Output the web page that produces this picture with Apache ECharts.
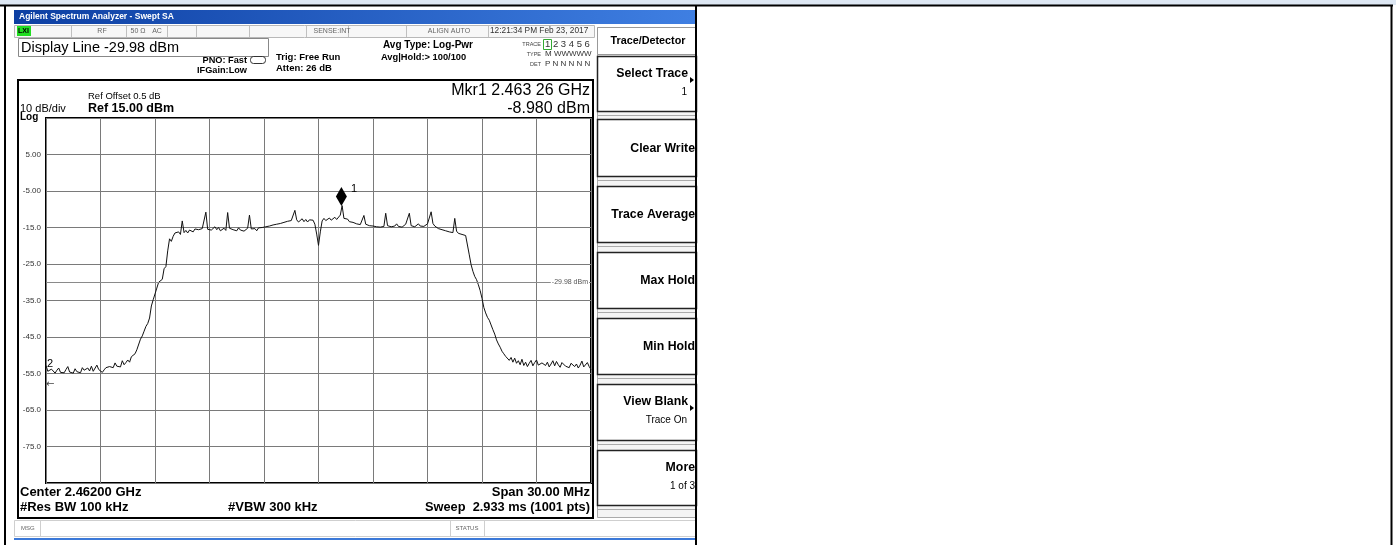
<!DOCTYPE html>
<html>
<head>
<meta charset="utf-8">
<title>Agilent Spectrum Analyzer - Swept SA</title>
<script src="https://cdn.jsdelivr.net/npm/echarts@6/dist/echarts.min.js"></script>
<style>
  html, body { margin: 0; padding: 0; background: #fff; }
  #chart { width: 1396px; height: 545px; }
</style>
</head>
<body>
<div id="chart"></div>
<script>
// sweep: centre 2.462 GHz, span 30 MHz -> x is the offset from centre in MHz
var freqStartMHz = -15;
var freqStepMHz = 0.1;
// trace 1 (dBm), one value per 0.1 MHz (one row = 1 MHz)
var traceDbm = [
  -52.8, -54.4, -54.6, -53.8, -54.2, -54.9, -54.1, -53.5, -54.7, -54.3,
  -54.8, -53.9, -53.1, -54.6, -54.2, -54.9, -53.7, -54.5, -54.0, -54.8,
  -53.4, -54.1, -54.6, -53.5, -54.3, -53.0, -54.4, -54.0, -52.7, -53.9,
  -54.4, -54.7, -54.0, -53.4, -53.9, -53.1, -52.6, -53.4, -52.1, -53.0,
  -52.7, -53.2, -51.5, -52.6, -52.0, -51.3, -51.9, -50.4, -50.9, -49.6,
  -48.5, -48.9, -45.6, -44.7, -43.4, -42.1, -41.3, -39.8, -36.5, -34.8,
  -33.2, -31.6, -30.0, -29.7, -29.2, -26.3, -25.7, -21.4, -18.1, -18.8,
  -17.4, -16.5, -16.8, -16.2, -16.9, -13.2, -16.4, -15.8, -16.5, -15.7,
  -15.9, -16.2, -15.4, -15.9, -15.6, -16.1, -15.3, -15.8, -10.8, -15.5,
  -15.1, -15.7, -15.3, -14.8, -15.6, -15.0, -15.9, -15.4, -15.2, -15.8,
  -10.9, -15.2, -14.9, -15.6, -15.3, -15.9, -15.1, -15.7, -15.4, -16.0,
  -15.5, -15.2, -11.6, -15.4, -15.8, -15.3, -15.9, -15.1, -15.6, -15.0,
  -15.4, -14.8, -15.2, -14.6, -14.9, -14.3, -14.7, -14.1, -14.5, -13.9,
  -14.2, -13.6, -14.0, -13.3, -13.8, -13.1, -12.7, -10.3, -12.9, -13.5,
  -13.0, -12.6, -13.4, -12.8, -13.5, -12.9, -13.3, -13.0, -14.1, -16.8,
  -19.9, -16.2, -13.2, -12.5, -13.1, -12.7, -12.4, -13.0, -12.6, -12.2,
  -12.8, -12.3, -11.6, -9.0, -12.5, -13.0, -12.7, -13.4, -12.9, -13.6,
  -13.3, -14.0, -13.5, -14.2, -13.7, -11.7, -14.1, -13.8, -14.5, -14.0,
  -14.6, -14.2, -14.8, -14.3, -14.9, -14.4, -14.7, -11.1, -14.5, -14.1,
  -14.8, -14.3, -14.6, -14.0, -14.7, -14.2, -14.9, -14.4, -14.1, -14.6,
  -11.1, -14.5, -14.2, -14.8, -14.3, -14.0, -14.6, -14.1, -14.7, -14.3,
  -14.0, -14.5, -10.7, -13.9, -14.6, -15.0, -15.3, -14.9, -15.6, -15.4,
  -15.9, -15.5, -16.2, -15.8, -16.4, -12.5, -16.0, -16.6, -16.2, -16.9,
  -16.5, -17.2, -17.6, -22.5, -25.2, -27.0, -28.4, -29.3, -30.7, -32.3,
  -34.4, -36.9, -38.4, -39.6, -40.4, -41.7, -43.0, -44.2, -45.8, -46.9,
  -47.8, -48.9, -49.6, -50.3, -50.0, -51.4, -50.6, -51.9, -50.8, -52.2,
  -51.5, -52.6, -51.1, -52.8, -51.9, -53.1, -52.2, -51.4, -52.9, -52.0,
  -51.3, -52.7, -53.0, -52.1, -51.6, -52.8, -51.9, -53.2, -52.4, -51.5,
  -52.9, -51.7, -52.6, -53.3, -52.0, -51.8, -53.0, -52.5, -53.4, -52.2,
  -51.9, -53.1, -52.4, -53.5, -52.7, -51.6, -53.2, -52.8, -52.0, -53.1,
  -53.9
];
var yTickLabels = ['5.00', '-5.00', '-15.0', '-25.0', '-35.0', '-45.0', '-55.0', '-65.0', '-75.0'];
var refLevelDbm = 15;
var dbPerDiv = 10;
var displayLineDbm = -29.98;
var marker1 = [1.26, -8.98];   // 2.463 26 GHz

var FONT = '"Liberation Sans", Arial, sans-serif';

var points = [];
for (var i = 0; i < traceDbm.length; i++) {
  points.push([+(freqStartMHz + i * freqStepMHz).toFixed(2), traceDbm[i]]);
}

function txt(x, y, s, size, o) {
  o = o || {};
  return {
    type: 'text', z: 20, silent: true,
    style: {
      x: x, y: y, text: s,
      font: (o.bold ? 'bold ' : '') + size + 'px ' + (o.family || FONT),
      fill: o.color || '#000',
      align: o.align || 'left', verticalAlign: 'middle',
      textAlign: o.align || 'left', textVerticalAlign: 'middle'
    }
  };
}
function box(x, y, w, h, stroke, fill, lw, z) {
  return {
    type: 'rect', z: z || 5, silent: true,
    shape: { x: x, y: y, width: w, height: h },
    style: { fill: fill || 'none', stroke: stroke || 'none', lineWidth: lw || 1 }
  };
}
function ln(x1, y1, x2, y2, color, lw, z) {
  return {
    type: 'line', z: z || 6, silent: true,
    shape: { x1: x1, y1: y1, x2: x2, y2: y2 },
    style: { stroke: color, lineWidth: lw || 1 }
  };
}

var g = [];
// page / table frame
g.push(box(0, 0, 1396, 5, null, '#dde7f3', 1, 1));
g.push(ln(0, 5.5, 1393, 5.5, '#000', 2, 30));
g.push(ln(5, 5, 5, 545, '#000', 2, 30));
g.push(ln(696, 5, 696, 545, '#000', 2, 30));
g.push(ln(1391.5, 5, 1391.5, 545, '#000', 2, 30));

// title bar
g.push({
  type: 'rect', z: 2, silent: true,
  shape: { x: 14, y: 10, width: 682, height: 14 },
  style: { fill: { type: 'linear', x: 0, y: 0, x2: 1, y2: 0,
    colorStops: [{ offset: 0, color: '#0d3fa3' }, { offset: 1, color: '#3f7fe2' }] } }
});
g.push(txt(19, 17, 'Agilent Spectrum Analyzer - Swept SA', 8.5, { bold: true, color: '#fff' }));

// status row
g.push(box(14.5, 25.5, 580, 12, '#b8b8b8', '#f7f7f7', 1, 2));
g.push(box(17, 26, 14, 10, null, '#22dd22', 1, 3));
g.push(txt(18, 31, 'LXI', 7, { bold: true }));
[71, 126, 167, 196, 249, 306, 348, 406, 488].forEach(function (x) {
  g.push(ln(x + 0.5, 26, x + 0.5, 37, '#c0c0c0', 1, 3));
});
g.push(txt(102, 31, 'RF', 7, { color: '#666', align: 'center' }));
g.push(txt(138, 31, '50 Ω', 7, { color: '#666', align: 'center' }));
g.push(txt(157, 31, 'AC', 7, { color: '#666', align: 'center' }));
g.push(txt(332, 31, 'SENSE:INT', 7, { color: '#666', align: 'center' }));
g.push(txt(449, 31, 'ALIGN AUTO', 7, { color: '#666', align: 'center' }));
g.push(txt(490, 31, '12:21:34 PM Feb 23, 2017', 8.3, { color: '#333' }));

// settings header
g.push(box(18.5, 38.5, 250, 18, '#888', '#fff', 1, 2));
g.push(txt(21, 47.5, 'Display Line -29.98 dBm', 14.5));
g.push(txt(247, 60, 'PNO: Fast', 9.2, { bold: true, align: 'right' }));
g.push(txt(247, 70, 'IFGain:Low', 9.2, { bold: true, align: 'right' }));
g.push({ type: 'rect', z: 3, silent: true, shape: { x: 250.5, y: 56.5, width: 15, height: 7, r: 3 },
  style: { fill: 'none', stroke: '#333', lineWidth: 1 } });
g.push(txt(276, 57, 'Trig: Free Run', 9.5, { bold: true }));
g.push(txt(276, 68, 'Atten: 26 dB', 9.5, { bold: true }));
g.push(txt(383, 45, 'Avg Type: Log-Pwr', 10, { bold: true }));
g.push(txt(381, 57, 'Avg|Hold:> 100/100', 9.3, { bold: true }));
g.push(txt(541, 44, 'TRACE', 5.5, { align: 'right', color: '#444' }));
g.push(txt(541, 54, 'TYPE', 5.5, { align: 'right', color: '#444' }));
g.push(txt(541, 64, 'DET', 5.5, { align: 'right', color: '#444' }));
g.push(box(543.5, 39.5, 8, 10, '#3a3', null, 1, 3));
g.push(txt(545, 44.5, '1 2 3 4 5 6', 9.5, { color: '#333' }));
g.push(txt(545, 54, 'M WWWWW', 8, { color: '#333' }));
g.push(txt(545, 64, 'P N N N N N', 8, { color: '#333' }));

// display frame
g.push(box(18, 80, 575, 438, '#000', null, 2, 8));
g.push(txt(88, 96, 'Ref Offset 0.5 dB', 9.5));
g.push(txt(20, 109, '10 dB/div', 11));
g.push(txt(88, 109, 'Ref 15.00 dBm', 12.5, { bold: true }));
g.push(txt(20, 117, 'Log', 10, { bold: true }));
g.push(txt(590, 91, 'Mkr1 2.463 26 GHz', 16, { align: 'right' }));
g.push(txt(590, 109, '-8.980 dBm', 16, { align: 'right' }));
g.push(txt(47, 364, '2', 11));
g.push(txt(46, 384, '←', 10, { family: '"DejaVu Sans"', color: '#444' }));
g.push(txt(20, 492, 'Center 2.46200 GHz', 13, { bold: true }));
g.push(txt(20, 507, '#Res BW 100 kHz', 13, { bold: true }));
g.push(txt(228, 507, '#VBW 300 kHz', 13, { bold: true }));
g.push(txt(590, 492, 'Span 30.00 MHz', 13, { bold: true, align: 'right' }));
g.push(txt(590, 507, 'Sweep  2.933 ms (1001 pts)', 12.8, { bold: true, align: 'right' }));

// message / status bar
g.push(box(14.5, 520.5, 682, 16, '#cfcfcf', '#fff', 1, 2));
g.push(ln(40.5, 521, 40.5, 536, '#cfcfcf', 1, 3));
g.push(ln(450.5, 521, 450.5, 536, '#cfcfcf', 1, 3));
g.push(ln(484.5, 521, 484.5, 536, '#cfcfcf', 1, 3));
g.push(txt(21, 528.5, 'MSG', 6, { color: '#666' }));
g.push(txt(467, 528.5, 'STATUS', 6, { color: '#666', align: 'center' }));
g.push(ln(14, 539, 696, 539, '#3b78d8', 2, 3));

// soft keys (cut off by the table divider on the right)
g.push(box(597.5, 27.5, 99, 490, '#aaa', '#f4f4f4', 1, 2));
g.push(box(597.5, 27.5, 99, 27, '#999', '#fff', 1, 3));
g.push(txt(648, 41, 'Trace/Detector', 10.8, { bold: true, align: 'center' }));
var keys = [
  { top: 56, h: 55, main: 'Select Trace', sub: '1', arrow: true },
  { top: 119, h: 57, main: 'Clear Write' },
  { top: 186, h: 56, main: 'Trace Average' },
  { top: 252, h: 56, main: 'Max Hold' },
  { top: 318, h: 56, main: 'Min Hold' },
  { top: 384, h: 56, main: 'View Blank', sub: 'Trace On', arrow: true },
  { top: 450, h: 55, main: 'More', sub: '1 of 3' }
];
keys.forEach(function (k) {
  g.push(box(597.5, k.top + 0.5, 99, k.h, '#222', '#fff', 1.5, 3));
  g.push(ln(598, k.top + k.h + 4.5, 696, k.top + k.h + 4.5, '#aaa', 1, 3));
  var right = k.arrow ? 688 : 695;
  if (k.sub) {
    g.push(txt(right, k.top + 18, k.main, 12.3, { bold: true, align: 'right' }));
    g.push(txt(k.arrow ? 687 : 695, k.top + 36, k.sub, 10, { align: 'right' }));
  } else {
    g.push(txt(right, k.top + k.h / 2 + 1, k.main, 12.3, { bold: true, align: 'right' }));
  }
  if (k.arrow) {
    g.push({ type: 'polygon', z: 6, silent: true,
      shape: { points: [[690, k.top + 21], [694, k.top + 24], [690, k.top + 27]] },
      style: { fill: '#000' } });
  }
});

var chart = echarts.init(document.getElementById('chart'), null, { renderer: 'canvas' });
chart.setOption({
  animation: false,
  backgroundColor: '#fff',
  textStyle: { fontFamily: FONT },
  grid: { left: 46, top: 118, width: 545, height: 365, show: true,
          borderColor: '#000', borderWidth: 2, backgroundColor: '#fff' },
  xAxis: {
    type: 'value', min: -15, max: 15, interval: 3,
    axisLine: { show: false }, axisTick: { show: false }, axisLabel: { show: false },
    splitLine: { show: true, lineStyle: { color: '#7a7a7a', width: 1 } }
  },
  yAxis: [
    { type: 'value', min: refLevelDbm - 10 * dbPerDiv, max: refLevelDbm, show: false,
      splitLine: { show: false } },
    { type: 'value', min: 0, max: 10, interval: 1, position: 'left',
      axisLine: { show: false }, axisTick: { show: false },
      splitLine: { show: true, lineStyle: { color: '#7a7a7a', width: 1 } },
      axisLabel: { margin: 5, fontSize: 8, color: '#333', fontFamily: FONT,
        formatter: function (v) { return yTickLabels[9 - v] || ''; } } }
  ],
  series: [{
    type: 'line', yAxisIndex: 0, data: points,
    showSymbol: false, symbol: 'none',
    lineStyle: { color: '#111', width: 1 },
    markLine: {
      silent: true, symbol: 'none', animation: false,
      lineStyle: { color: '#8a8a8a', type: 'solid', width: 1 },
      label: { show: true, position: 'insideEnd', formatter: '-29.98 dBm',
        fontSize: 7, color: '#555', backgroundColor: '#fff', padding: [1, 1], distance: [2, -4] },
      data: [{ yAxis: displayLineDbm }]
    },
    markPoint: {
      symbol: 'diamond', symbolSize: [11, 19], symbolOffset: [0, -9],
      itemStyle: { color: '#000' },
      label: { show: true, formatter: '1', position: 'right', offset: [-1, -8],
        color: '#000', fontSize: 11, fontFamily: FONT },
      data: [{ coord: marker1 }]
    }
  }],
  graphic: { elements: g }
});
</script>
</body>
</html>
